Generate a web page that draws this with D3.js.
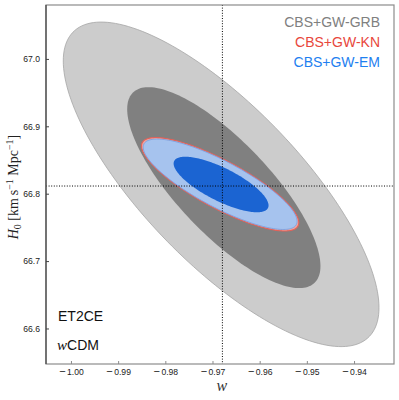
<!DOCTYPE html>
<html lang="en">
<head>
    <meta charset="UTF-8">
    <title>ET2CE wCDM - H0 vs w contours</title>
    <script src="https://cdnjs.cloudflare.com/ajax/libs/d3/7.8.5/d3.min.js"></script>
    <style>
        body { margin: 0; background: #fff; }
        .tick text { font-family: Arial, "Liberation Sans", sans-serif; font-size: 8.6px; fill: #222; }
        .serif { font-family: "Liberation Serif", "DejaVu Serif", serif; }
        .sans { font-family: Arial, "Liberation Sans", sans-serif; }
    </style>
</head>
<body>
<div id="chart"></div>
<script>
    // contour layers, drawn back to front
    const layers = ['GRB 2sigma', 'GRB 1sigma', 'KN 2sigma', 'EM 2sigma', 'EM 1sigma'];
    const centerW = [-0.96817, -0.96760, -0.96838, -0.96838, -0.96818];
    const centerH = [66.8139, 66.8090, 66.8140, 66.8140, 66.8137];
    const halfW   = [0.03346, 0.02048, 0.01667, 0.01631, 0.01006];
    const halfH   = [0.2408, 0.1491, 0.0693, 0.0671, 0.0412];
    const corr    = [-0.76, -0.78, -0.82, -0.82, -0.755];
    const fills   = ['#cccccc', '#808080', '#f2a59d', '#a6c3ee', '#1b64d2'];
    const strokes = ['#a6a6a6', 'none', '#e2625a', '#6f9fe6', 'none'];

    const legendNames  = ['CBS+GW-GRB', 'CBS+GW-KN', 'CBS+GW-EM'];
    const legendColors = ['#808080', '#e8473c', '#1e80f0'];

    const wTicks = [-1.00, -0.99, -0.98, -0.97, -0.96, -0.95, -0.94];
    const hTicks = [66.6, 66.7, 66.8, 66.9, 67.0];
    const fiducialW = -0.9679;
    const fiducialH = 66.8114;

    const W = 399, H = 400;
    const margin = {top: 5, right: 5, bottom: 36, left: 46};

    const svg = d3.select("#chart").append("svg")
        .attr("width", W)
        .attr("height", H);

    const x = d3.scaleLinear()
        .domain([-1.00529, -0.93153])
        .range([margin.left, W - margin.right]);

    const y = d3.scaleLinear()
        .domain([66.5473, 67.080])
        .range([H - margin.bottom, margin.top]);

    svg.append("defs").append("clipPath").attr("id", "plot-clip")
        .append("rect")
        .attr("x", margin.left).attr("y", margin.top)
        .attr("width", W - margin.left - margin.right)
        .attr("height", H - margin.top - margin.bottom);

    // ellipse outline from center, projected half-widths and correlation
    function ellipse(i) {
        const pts = [];
        const r = corr[i], s = Math.sqrt(1 - r * r);
        for (let k = 0; k < 180; k++) {
            const t = 2 * Math.PI * k / 180;
            pts.push([centerW[i] + halfW[i] * Math.cos(t),
                      centerH[i] + halfH[i] * (r * Math.cos(t) + s * Math.sin(t))]);
        }
        return pts;
    }

    const line = d3.line()
        .x(d => x(d[0]))
        .y(d => y(d[1]))
        .curve(d3.curveLinearClosed);

    const plot = svg.append("g").attr("clip-path", "url(#plot-clip)");

    plot.selectAll("path.contour")
        .data(layers)
        .join("path")
        .attr("class", "contour")
        .attr("d", (d, i) => line(ellipse(i)))
        .attr("fill", (d, i) => fills[i])
        .attr("stroke", (d, i) => strokes[i])
        .attr("stroke-width", (d, i) => i === 2 ? 1.1 : 0.8);

    // fiducial dotted lines
    plot.append("line")
        .attr("x1", x(fiducialW)).attr("x2", x(fiducialW))
        .attr("y1", margin.top).attr("y2", H - margin.bottom)
        .attr("stroke", "#000").attr("stroke-width", 1)
        .attr("stroke-dasharray", "1,1.6");
    plot.append("line")
        .attr("x1", margin.left).attr("x2", W - margin.right)
        .attr("y1", y(fiducialH)).attr("y2", y(fiducialH))
        .attr("stroke", "#000").attr("stroke-width", 1)
        .attr("stroke-dasharray", "1,1.6");

    // frame
    svg.append("rect")
        .attr("x", margin.left).attr("y", margin.top)
        .attr("width", W - margin.left - margin.right)
        .attr("height", H - margin.top - margin.bottom)
        .attr("fill", "none")
        .attr("stroke", "#8c8c8c")
        .attr("stroke-width", 1.2);
    svg.append("line")
        .attr("x1", margin.left).attr("x2", margin.left)
        .attr("y1", margin.top).attr("y2", H - margin.bottom)
        .attr("stroke", "#444").attr("stroke-width", 1.2);

    // axes (inward ticks)
    const xAxis = svg.append("g")
        .attr("transform", `translate(0,${H - margin.bottom})`)
        .call(d3.axisBottom(x).tickValues(wTicks).tickSizeInner(-3).tickSizeOuter(0).tickPadding(5));
    xAxis.select(".domain").remove();
    xAxis.selectAll(".tick line").attr("stroke", "#8c8c8c");
    xAxis.selectAll(".tick text")
        .text(null)
        .each(function(d) {
            const t = d3.select(this);
            t.append("tspan").attr("font-size", 11).text("\u2212");
            t.append("tspan").attr("dx", 1.4).text(d3.format(".2f")(Math.abs(d)));
        });

    const yAxis = svg.append("g")
        .attr("transform", `translate(${margin.left},0)`)
        .call(d3.axisLeft(y).tickValues(hTicks).tickFormat(d3.format(".1f"))
            .tickSizeInner(-3).tickSizeOuter(0).tickPadding(6));
    yAxis.select(".domain").remove();
    yAxis.selectAll(".tick line").attr("stroke", "#444");

    // axis labels
    svg.append("text")
        .attr("class", "serif")
        .attr("x", x(-0.968))
        .attr("y", 391)
        .attr("text-anchor", "middle")
        .attr("font-size", 16)
        .attr("font-style", "italic")
        .attr("fill", "#333")
        .text("w");

    const yl = svg.append("text")
        .attr("class", "serif")
        .attr("transform", "translate(18,187) rotate(-90)")
        .attr("text-anchor", "middle")
        .attr("font-size", 14)
        .attr("fill", "#222");
    yl.append("tspan").attr("font-style", "italic").text("H");
    yl.append("tspan").attr("font-size", 10).attr("dy", 3).text("0");
    yl.append("tspan").attr("dy", -3).text(" [km\u2009s");
    yl.append("tspan").attr("font-size", 10).attr("dy", -5).text("\u22121");
    yl.append("tspan").attr("dy", 5).text(" Mpc");
    yl.append("tspan").attr("font-size", 10).attr("dy", -5).text("\u22121");
    yl.append("tspan").attr("dy", 5).text("]");

    // legend
    svg.selectAll("text.legend")
        .data(legendNames)
        .join("text")
        .attr("class", "legend sans")
        .attr("x", 380)
        .attr("y", (d, i) => 27 + i * 19.8)
        .attr("text-anchor", "end")
        .attr("font-size", 14)
        .attr("fill", (d, i) => legendColors[i])
        .text(d => d);

    // annotations
    svg.append("text")
        .attr("class", "sans")
        .attr("x", 58).attr("y", 321)
        .attr("font-size", 14)
        .attr("fill", "#111")
        .text("ET2CE");

    const model = svg.append("text")
        .attr("x", 57).attr("y", 350)
        .attr("font-size", 14)
        .attr("fill", "#111");
    model.append("tspan").attr("class", "serif").attr("font-style", "italic").attr("font-size", 15).text("w");
    model.append("tspan").attr("class", "sans").text("CDM");
</script>
</body>
</html>
